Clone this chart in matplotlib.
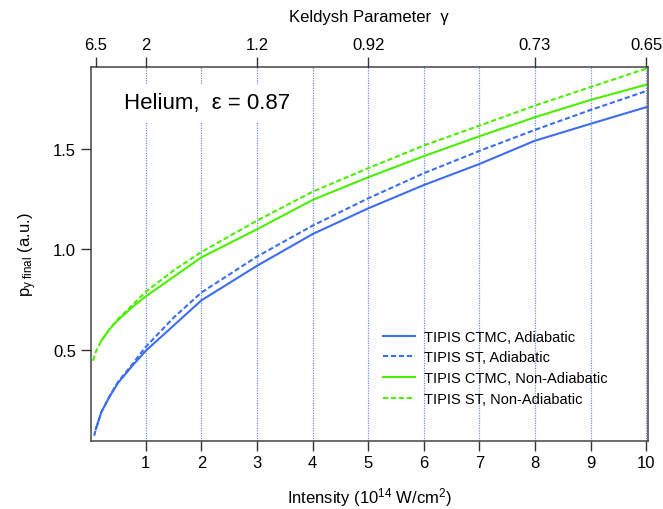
import matplotlib
matplotlib.use("Agg")
import matplotlib.pyplot as plt

plt.rcParams['font.family'] = ['Liberation Sans', 'DejaVu Sans']
plt.rcParams['mathtext.fontset'] = 'custom'
plt.rcParams['mathtext.rm'] = 'Liberation Sans'
plt.rcParams['mathtext.it'] = 'Liberation Sans'

# intensity (10^14 W/cm^2) and p_y final (a.u.)
ctmc_ad_I = [0.1, 0.2, 0.35, 0.5, 0.75, 1, 2, 3, 4, 5, 6, 7, 8, 9, 10]
ctmc_ad_p = [0.104, 0.19, 0.268, 0.335, 0.418, 0.495, 0.746, 0.918, 1.076, 1.204, 1.32, 1.425, 1.541, 1.625, 1.708]

st_ad_I = [0.07, 0.1, 0.2, 0.35, 0.5, 0.75, 1, 1.5, 2, 3, 4, 5, 6, 7, 8, 9, 10]
st_ad_p = [0.071, 0.104, 0.19, 0.27, 0.34, 0.425, 0.515, 0.66, 0.785, 0.964, 1.118, 1.254, 1.379, 1.49, 1.595, 1.694, 1.788]

ctmc_nad_I = [0.2, 0.35, 0.5, 0.75, 1, 2, 3, 4, 5, 6, 7, 8, 9, 10]
ctmc_nad_p = [0.545, 0.603, 0.648, 0.71, 0.766, 0.96, 1.10, 1.246, 1.359, 1.464, 1.563, 1.658, 1.744, 1.82]

st_nad_I = [0.05, 0.1, 0.2, 0.35, 0.5, 0.75, 1, 1.5, 2, 3, 4, 5, 6, 7, 8, 9, 10]
st_nad_p = [0.445, 0.49, 0.545, 0.605, 0.653, 0.72, 0.789, 0.895, 0.987, 1.143, 1.287, 1.404, 1.517, 1.616, 1.716, 1.808, 1.90]

# top axis: Keldysh parameter at given intensities
gamma_I = [0.1, 1, 3, 5, 8, 10]
gamma_labels = ['6.5', '2', '1.2', '0.92', '0.73', '0.65']

blue = '#3d6ef0'
green = '#4bee00'
grid_c = '#6f8ff5'

fig = plt.figure(figsize=(6.63, 5.10), dpi=100)
ax = fig.add_axes([0.137, 0.134, 0.840, 0.733])

for x in range(1, 11):
    ax.axvline(x, color=grid_c, lw=0.9, ls=(0, (1, 1)), zorder=0)

ax.plot(ctmc_ad_I, ctmc_ad_p, color=blue, lw=1.5, label='TIPIS CTMC, Adiabatic')
ax.plot(st_ad_I, st_ad_p, color=blue, lw=1.5, ls=(0, (2.5, 1.3)), label='TIPIS ST, Adiabatic')
ax.plot(ctmc_nad_I, ctmc_nad_p, color=green, lw=1.5, label='TIPIS CTMC, Non-Adiabatic')
ax.plot(st_nad_I, st_nad_p, color=green, lw=1.5, ls=(0, (2.5, 1.3)), label='TIPIS ST, Non-Adiabatic')

ax.set_xlim(0.01, 10.03)
ax.set_ylim(0.047, 1.909)
ax.set_xticks(range(1, 11))
ax.set_yticks([0.5, 1.0, 1.5])
ax.set_yticklabels(['0.5', '1.0', '1.5'])
ax.tick_params(direction='out', length=7, width=1, labelsize=12, color='#333333')
for s in ax.spines.values():
    s.set_color('#444444')
    s.set_linewidth(1.1)

ax.set_xlabel('Intensity (10$^{14}$ W/cm$^{2}$)', fontsize=12, labelpad=11)
ax.set_ylabel('p$_{\\mathregular{y\\ final}}$ (a.u.)', fontsize=12, labelpad=10)

top = ax.twiny()
top.set_xlim(ax.get_xlim())
top.set_xticks(gamma_I)
top.set_xticklabels(gamma_labels)
top.tick_params(direction='out', length=7, width=1, labelsize=12, color='#333333')
for s in top.spines.values():
    s.set_visible(False)
top.set_xlabel('Keldysh Parameter  \u03b3', fontsize=12, labelpad=12)

ax.text(0.059, 0.904, 'Helium,  \u03b5 = 0.87', transform=ax.transAxes, fontsize=16,
        va='center', ha='left',
        bbox=dict(facecolor='white', edgecolor='none', pad=6))

ax.legend(loc='upper left', bbox_to_anchor=(0.5245, 0.297), frameon=False, fontsize=10.5,
          borderpad=0, borderaxespad=0,
          handlelength=2.2, handletextpad=0.6, labelspacing=0.47)

fig.savefig('out.png', dpi=100)
